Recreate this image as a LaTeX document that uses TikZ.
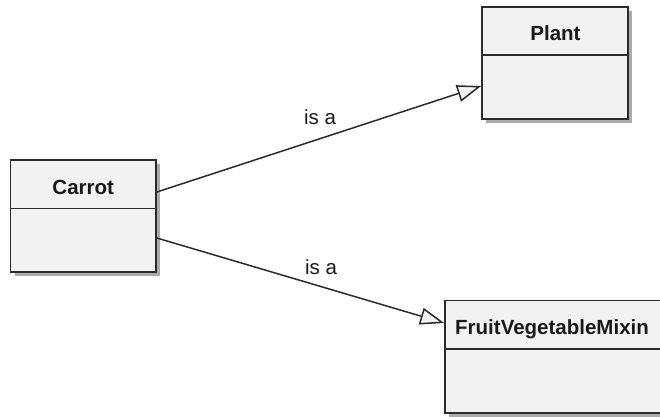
\documentclass[tikz,border=0pt]{standalone}
\usepackage{fontspec}
\setmainfont{Liberation Sans}
\usetikzlibrary{arrows.meta,shadows}
\definecolor{boxfill}{HTML}{F2F2F2}
\definecolor{boxline}{HTML}{2B2B2B}
\definecolor{shadowgray}{HTML}{ABABAB}
\tikzset{
  umlbox/.style={draw=boxline, line width=1.7pt, fill=boxfill, inner sep=0pt,
    drop shadow={shadow xshift=4pt, shadow yshift=-4pt, fill=shadowgray, opacity=1}},
  umltitle/.style={anchor=base, inner sep=0pt, font=\fontsize{20.5}{24}\selectfont\bfseries, text=black!90},
  divider/.style={draw=boxline, line width=1.7pt},
  isa/.style={draw=boxline, line width=1.5pt,
    -{Triangle[length=24pt,width=17pt,fill=boxfill,line join=miter]}},
  isalabel/.style={anchor=base, inner sep=0pt, font=\fontsize{20.5}{24}\selectfont, text=black!90}
}
\begin{document}
\begin{tikzpicture}[x=1pt,y=-1pt]
\useasboundingbox (0,0) rectangle (660,416);
\clip (0,0) rectangle (660,416);
\fill[white] (0,0) rectangle (660,416);
% boxes
\node[umlbox, minimum width=145.5pt, minimum height=112pt] (carrot) at (83.25,216) {};
\node[umlbox, minimum width=146pt, minimum height=112pt] (plant) at (555,63) {};
\node[umlbox, minimum width=217pt, minimum height=112.5pt] (fvm) at (553.5,356.75) {};
% dividers
\draw[divider] (carrot.west |- 0,208.5) -- (carrot.east |- 0,208.5);
\draw[divider] (plant.west |- 0,55) -- (plant.east |- 0,55);
\draw[divider] (fvm.west |- 0,349) -- (fvm.east |- 0,349);
% titles
\node[umltitle] (carrottitle) at (83.25,194) {Carrot};
\node[umltitle] (planttitle) at (555.5,40) {Plant};
\node[umltitle, anchor=base west] (fvmtitle) at (455,334) {FruitVegetableMixin};
% connectors
\draw[isa] ([yshift=24pt]carrot.east) -- ([yshift=-23pt]plant.west);
\draw[isa] ([yshift=-22pt]carrot.east) -- ([yshift=33.75pt]fvm.west);
% labels
\node[isalabel] (isa1) at (320,124) {is a};
\node[isalabel] (isa2) at (321,274) {is a};
\end{tikzpicture}
\end{document}
